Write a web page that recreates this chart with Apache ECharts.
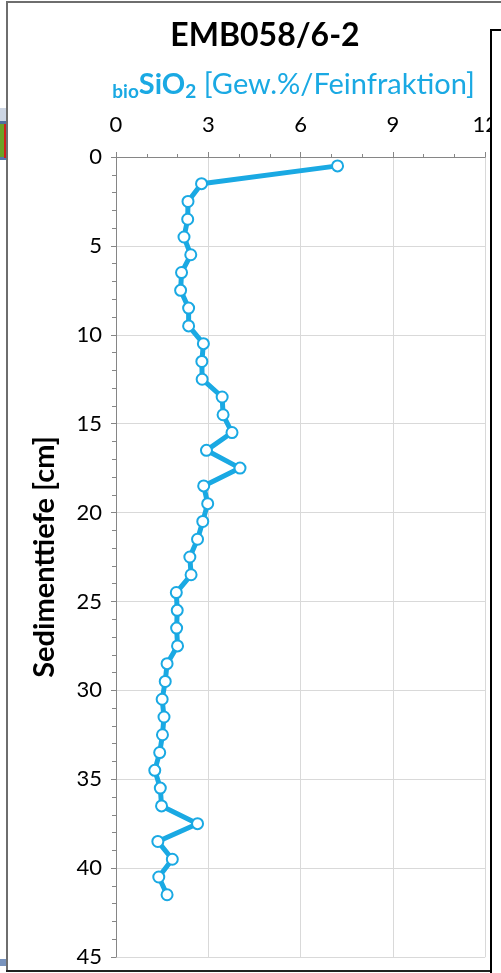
<!DOCTYPE html>
<html>
<head>
<meta charset="utf-8">
<script src="https://cdn.jsdelivr.net/npm/echarts@6/dist/echarts.min.js"></script>
<style>
html,body{margin:0;padding:0;background:#fff;}
#chart{width:501px;height:973px;}
</style>
</head>
<body>
<div id="chart"></div>
<script>
// Data
var depthsCm = [0.5,1.5,2.5,3.5,4.5,5.5,6.5,7.5,8.5,9.5,10.5,11.5,12.5,13.5,14.5,15.5,16.5,17.5,18.5,19.5,20.5,21.5,22.5,23.5,24.5,25.5,26.5,27.5,28.5,29.5,30.5,31.5,32.5,33.5,34.5,35.5,36.5,37.5,38.5,39.5,40.5,41.5];
var bioSiO2 = [7.2,2.78,2.34,2.33,2.21,2.43,2.13,2.10,2.36,2.36,2.84,2.79,2.80,3.45,3.48,3.77,2.94,4.03,2.85,2.98,2.82,2.65,2.40,2.44,1.96,1.99,1.97,2.00,1.66,1.60,1.50,1.56,1.51,1.42,1.26,1.44,1.48,2.65,1.36,1.83,1.39,1.66];
var xTickLabels = ['0','3','6','9','12'];
var yTickLabels = ['0','5','10','15','20','25','30','35','40','45'];
var titleText = 'EMB058/6-2';
var yName = 'Sedimenttiefe [cm]';

var FONT = 'Lato, "Open Sans", sans-serif';
var BLUE = '#1aa9e3';

var pairs = bioSiO2.map(function(v,i){ return [v, depthsCm[i]]; });

var chart = echarts.init(document.getElementById('chart'));
chart.setOption({
  animation: false,
  backgroundColor: '#fff',
  title: {
    text: titleText,
    left: 260, top: 15, textAlign: 'center',
    textStyle: {fontFamily: FONT, fontSize: 32, fontWeight: 'bold', color: '#000'}
  },
  grid: {left: 116, top: 157, right: 13, bottom: 16, containLabel: false},
  xAxis: {
    type: 'value', position: 'top', min: 0, max: 12, interval: 3,
    name: '{sub|bio}{b|SiO}{sub2|2}{r| [Gew.%/Feinfraktion]}',
    nameLocation: 'middle', nameGap: 56,
    nameTextStyle: {
      align: 'center', padding: [0, 14, 0, 0],
      rich: {
        sub: {fontFamily: FONT, fontSize: 19, fontWeight: 'bold', color: BLUE, verticalAlign: 'bottom', padding: [13,0,0,0]},
        b: {fontFamily: FONT, fontSize: 29, fontWeight: 'bold', color: BLUE},
        sub2: {fontFamily: FONT, fontSize: 19, fontWeight: 'bold', color: BLUE, verticalAlign: 'bottom', padding: [13,0,0,0]},
        r: {fontFamily: FONT, fontSize: 29, color: BLUE}
      }
    },
    axisLine: {show: true, lineStyle: {color: '#868686', width: 1}},
    axisTick: {show: true, length: 5, lineStyle: {color: '#868686'}},
    minorTick: {show: true, splitNumber: 3, length: 3, lineStyle: {color: '#868686'}},
    splitLine: {show: true, lineStyle: {color: '#d9d9d9', width: 1}},
    axisLabel: {
      margin: 21, fontFamily: FONT, fontSize: 22, color: '#000',
      formatter: function(v){ return xTickLabels[Math.round(v/3)]; }
    }
  },
  yAxis: {
    type: 'value', inverse: true, min: 0, max: 45, interval: 5,
    name: yName, nameLocation: 'middle', nameGap: 57, nameRotate: 90,
    nameTextStyle: {fontFamily: FONT, fontSize: 29, fontWeight: 'bold', color: '#000'},
    axisLine: {show: true, lineStyle: {color: '#868686', width: 1}},
    axisTick: {show: true, length: 5, lineStyle: {color: '#868686'}},
    minorTick: {show: true, splitNumber: 5, length: 4, lineStyle: {color: '#868686'}},
    splitLine: {show: true, lineStyle: {color: '#d9d9d9', width: 1}},
    axisLabel: {
      margin: 14, fontFamily: FONT, fontSize: 22, color: '#000',
      formatter: function(v){ return yTickLabels[Math.round(v/5)]; }
    }
  },
  series: [{
    type: 'line',
    data: pairs,
    lineStyle: {color: BLUE, width: 5},
    itemStyle: {color: '#fff', borderColor: BLUE, borderWidth: 2},
    symbol: 'circle', symbolSize: 11,
    z: 5
  }],
  graphic: [
    {type: 'line', shape: {x1: 7, y1: 2, x2: 501, y2: 2}, style: {stroke: '#6e6e6e', lineWidth: 2}, z: 100},
    {type: 'line', shape: {x1: 7, y1: 1, x2: 7, y2: 972}, style: {stroke: '#6e6e6e', lineWidth: 2}, z: 100},
    {type: 'line', shape: {x1: 6, y1: 971, x2: 501, y2: 971}, style: {stroke: '#222', lineWidth: 2}, z: 100},
    {type: 'rect', shape: {x: 491, y: 30, width: 20, height: 960}, style: {fill: '#fff', stroke: '#000', lineWidth: 2}, z: 110},
    {type: 'rect', shape: {x: 0, y: 108, width: 6, height: 14}, style: {fill: '#cdd6e4'}, z: 90},
    {type: 'rect', shape: {x: 0, y: 121, width: 6, height: 3}, style: {fill: '#4f6f9f'}, z: 90},
    {type: 'rect', shape: {x: 0, y: 124, width: 5, height: 34}, style: {fill: '#6aa325'}, z: 90},
    {type: 'rect', shape: {x: 4, y: 124, width: 2, height: 34}, style: {fill: '#d0201c'}, z: 91},
    {type: 'rect', shape: {x: 0, y: 157, width: 6, height: 3}, style: {fill: '#5578ad'}, z: 90},
    {type: 'rect', shape: {x: 0, y: 959, width: 6, height: 7}, style: {fill: '#7893bd'}, z: 90}
  ]
});
</script>
</body>
</html>
